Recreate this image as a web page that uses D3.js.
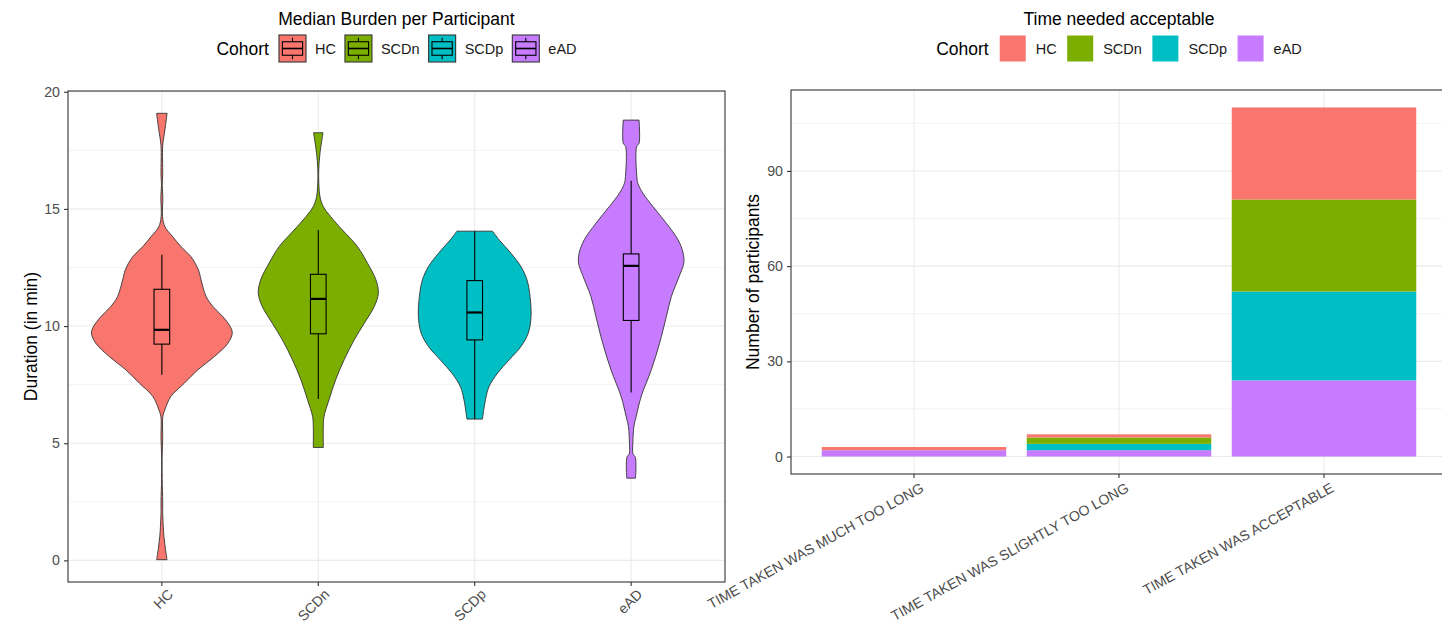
<!DOCTYPE html>
<html>
<head>
<meta charset="utf-8">
<script src="https://cdn.jsdelivr.net/npm/d3@7"></script>
<style>
  html, body { margin: 0; padding: 0; background: #ffffff; }
  svg { display: block; font-family: "Liberation Sans", Arial, sans-serif; }
</style>
</head>
<body>
<svg id="chart" width="1442" height="626"></svg>
<script>
// ---------------- data ----------------
const cohorts = ["HC", "SCDn", "SCDp", "eAD"];
const cohortColors = ["#F8766D", "#7CAE00", "#00BFC4", "#C77CFF"];

// Violin outlines: [duration in min, relative density half-width (widest violin = 1)]
const densityHC = [
  [0.03, 0.074], [0.5, 0.05], [1.0, 0.03], [1.45, 0.02], [2.0, 0.012], [2.5, 0.012],
  [3.5, 0.004], [4.5, 0.004], [5.2, 0.012], [6.14, 0.014], [6.43, 0.043], [7.0, 0.129],
  [7.56, 0.319], [8.13, 0.51], [8.7, 0.747], [9.27, 0.939], [9.7, 1.0], [9.98, 0.971],
  [10.4, 0.867], [10.84, 0.724], [11.26, 0.629], [11.97, 0.557], [12.4, 0.519],
  [12.96, 0.414], [13.39, 0.271], [13.82, 0.153], [14.24, 0.043], [14.67, 0.01],
  [15.5, 0.014], [16.0, 0.006], [16.5, 0.012], [17.7, 0.012], [18.4, 0.045], [19.08, 0.074]
];
const densitySCDn = [
  [4.82, 0.071], [5.71, 0.071], [6.14, 0.081], [6.86, 0.153], [7.71, 0.247],
  [8.56, 0.367], [9.41, 0.51], [10.12, 0.653], [10.84, 0.796], [11.4, 0.853],
  [11.97, 0.819], [12.68, 0.7], [13.39, 0.557], [14.1, 0.343], [14.67, 0.176],
  [15.1, 0.071], [15.52, 0.024], [15.95, 0.01], [16.66, 0.006], [17.37, 0.024], [18.25, 0.067]
];
const densitySCDp = [
  [6.03, 0.11], [6.86, 0.153], [7.42, 0.204], [7.99, 0.324], [8.56, 0.49],
  [9.13, 0.657], [9.7, 0.761], [10.4, 0.8], [11.26, 0.786], [11.97, 0.743],
  [12.54, 0.657], [13.11, 0.514], [13.68, 0.347], [14.05, 0.253]
];
const densityEAD = [
  [3.51, 0.062], [4.4, 0.06], [4.55, 0.026], [5.0, 0.024], [5.71, 0.039], [6.14, 0.071],
  [7.0, 0.143], [8.13, 0.286], [9.27, 0.404], [10.4, 0.5], [11.26, 0.571], [12.11, 0.681],
  [12.68, 0.747], [13.11, 0.739], [13.68, 0.667], [14.39, 0.5], [15.1, 0.31],
  [15.67, 0.167], [16.09, 0.096], [16.38, 0.081], [17.66, 0.078], [17.8, 0.112], [18.79, 0.112]
];

// Box-plot summaries per cohort (min)
const whiskerLow  = [7.92, 6.89, 6.03, 7.17];
const quartile1   = [9.23, 9.67, 9.41, 10.24];
const medians     = [9.84, 11.16, 10.58, 12.57];
const quartile3   = [11.57, 12.21, 11.94, 13.08];
const whiskerHigh = [13.04, 14.1, 14.05, 16.2];

const durationTicks = [0, 5, 10, 15, 20];
const durationMinorTicks = [2.5, 7.5, 12.5, 17.5];

// Acceptability of time needed, participants per cohort
const responses = [
  "TIME TAKEN WAS MUCH TOO LONG",
  "TIME TAKEN WAS SLIGHTLY TOO LONG",
  "TIME TAKEN WAS ACCEPTABLE"
];
const countHC   = [1, 1, 29];
const countSCDn = [0, 2, 29];
const countSCDp = [0, 2, 28];
const countEAD  = [2, 2, 24];
const countTicks = [0, 30, 60, 90];
const countMinorTicks = [15, 45, 75, 105];

// ---------------- shared styling ----------------
const svg = d3.select("#chart");
svg.append("rect").attr("width", 1442).attr("height", 626).attr("fill", "#ffffff");

const GRID = "#ebebeb";
const BORDER = "#333333";
const TICKTEXT = "#4d4d4d";
const TITLE_SIZE = 17.5;
const TICK_SIZE = 14.2;
const LEGEND_LABEL_SIZE = 14.5;
const color = d3.scaleOrdinal().domain(cohorts).range(cohortColors);

function styleAxis(g) {
  g.select(".domain").remove();
  g.selectAll(".tick line").attr("stroke", BORDER).attr("stroke-width", 1.1);
  g.selectAll(".tick text").attr("fill", TICKTEXT).attr("font-size", TICK_SIZE)
    .attr("font-family", "Liberation Sans, Arial, sans-serif");
}

// Horizontal legend centred over a panel
function drawLegend(cx, opts, drawKey) {
  const g = svg.append("g");
  const title = g.append("text").text("Cohort")
    .attr("font-size", TITLE_SIZE).attr("fill", "#000")
    .attr("y", opts.midY).attr("dy", "0.35em");
  let x = title.node().getComputedTextLength() + opts.titleGap;
  cohorts.forEach((c, i) => {
    const key = g.append("g").attr("transform", `translate(${x},${opts.midY - opts.keyH / 2})`);
    drawKey(key, c, opts.keyW, opts.keyH);
    const lab = g.append("text").text(c)
      .attr("x", x + opts.keyW + opts.labelGap).attr("y", opts.midY).attr("dy", "0.35em")
      .attr("font-size", LEGEND_LABEL_SIZE).attr("fill", "#1a1a1a");
    x += opts.keyW + opts.labelGap + lab.node().getComputedTextLength();
    if (i < cohorts.length - 1) x += opts.itemGap;
  });
  g.attr("transform", `translate(${cx - x / 2},0)`);
}

// ---------------- left panel: violins ----------------
const L = { x0: 68, x1: 725, y0: 91, y1: 582 };
const densities = [densityHC, densitySCDn, densitySCDp, densityEAD];

const allDur = densities.flat().map(d => d[0]);
const dMin = d3.min(allDur), dMax = d3.max(allDur);
const dPad = (dMax - dMin) * 0.05;
const yDur = d3.scaleLinear().domain([dMin - dPad, dMax + dPad]).range([L.y1, L.y0]);
const xCoh = d3.scaleBand().domain(cohorts).range([L.x0, L.x1])
  .paddingInner(0.1).paddingOuter(0.15);
const halfW = d3.scaleLinear().domain([0, 1]).range([0, xCoh.bandwidth() / 2]);
const boxHalf = xCoh.step() * 0.05;

const left = svg.append("g");
// grid
left.selectAll(".minor").data(durationMinorTicks).join("line")
  .attr("x1", L.x0).attr("x2", L.x1).attr("y1", d => yDur(d)).attr("y2", d => yDur(d))
  .attr("stroke", GRID).attr("stroke-width", 0.6);
left.selectAll(".major").data(durationTicks).join("line")
  .attr("x1", L.x0).attr("x2", L.x1).attr("y1", d => yDur(d)).attr("y2", d => yDur(d))
  .attr("stroke", GRID).attr("stroke-width", 1.1);
left.selectAll(".vmajor").data(cohorts).join("line")
  .attr("x1", d => xCoh(d) + xCoh.bandwidth() / 2).attr("x2", d => xCoh(d) + xCoh.bandwidth() / 2)
  .attr("y1", L.y0).attr("y2", L.y1).attr("stroke", GRID).attr("stroke-width", 1.1);

// violins
cohorts.forEach((c, i) => {
  const cx = xCoh(c) + xCoh.bandwidth() / 2;
  const area = d3.area()
    .curve(d3.curveCatmullRom.alpha(0.5))
    .y(d => yDur(d[0]))
    .x0(d => cx - halfW(d[1]))
    .x1(d => cx + halfW(d[1]));
  left.append("path").datum(densities[i]).attr("d", area)
    .attr("fill", color(c)).attr("stroke", BORDER).attr("stroke-width", 0.9)
    .attr("stroke-linejoin", "round");

  // box plot on top
  const bp = left.append("g");
  bp.append("line").attr("x1", cx).attr("x2", cx)
    .attr("y1", yDur(whiskerHigh[i])).attr("y2", yDur(quartile3[i]))
    .attr("stroke", "#000").attr("stroke-width", 1.1);
  bp.append("line").attr("x1", cx).attr("x2", cx)
    .attr("y1", yDur(quartile1[i])).attr("y2", yDur(whiskerLow[i]))
    .attr("stroke", "#000").attr("stroke-width", 1.1);
  bp.append("rect").attr("x", cx - boxHalf).attr("width", boxHalf * 2)
    .attr("y", yDur(quartile3[i])).attr("height", yDur(quartile1[i]) - yDur(quartile3[i]))
    .attr("fill", color(c)).attr("stroke", "#000").attr("stroke-width", 1.1);
  bp.append("line").attr("x1", cx - boxHalf).attr("x2", cx + boxHalf)
    .attr("y1", yDur(medians[i])).attr("y2", yDur(medians[i]))
    .attr("stroke", "#000").attr("stroke-width", 2.2);
});

left.append("rect").attr("x", L.x0).attr("y", L.y0)
  .attr("width", L.x1 - L.x0).attr("height", L.y1 - L.y0)
  .attr("fill", "none").attr("stroke", BORDER).attr("stroke-width", 1.1);

const lyAxis = left.append("g").attr("transform", `translate(${L.x0},0)`)
  .call(d3.axisLeft(yDur).tickValues(durationTicks).tickSize(4).tickPadding(4));
styleAxis(lyAxis);

const lxAxis = left.append("g").attr("transform", `translate(0,${L.y1})`)
  .call(d3.axisBottom(xCoh).tickSize(4));
styleAxis(lxAxis);
lxAxis.selectAll(".tick text")
  .attr("x", 0).attr("y", 0).attr("dy", "0.71em")
  .attr("text-anchor", "end")
  .attr("transform", "translate(5,6) rotate(-45)");

left.append("text").text("Duration (in min)")
  .attr("transform", `translate(31,${(L.y0 + L.y1) / 2}) rotate(-90)`)
  .attr("text-anchor", "middle").attr("dy", "0.35em")
  .attr("font-size", TITLE_SIZE).attr("fill", "#000");

left.append("text").text("Median Burden per Participant")
  .attr("x", (L.x0 + L.x1) / 2).attr("y", 25).attr("text-anchor", "middle")
  .attr("font-size", TITLE_SIZE).attr("fill", "#000");

drawLegend((L.x0 + L.x1) / 2,
  { midY: 48.5, keyW: 27, keyH: 27, titleGap: 10, labelGap: 9, itemGap: 9 },
  (g, c, w, h) => {
    g.append("rect").attr("width", w).attr("height", h)
      .attr("fill", color(c)).attr("stroke", BORDER).attr("stroke-width", 1.1);
    g.append("line").attr("x1", w / 2).attr("x2", w / 2).attr("y1", h * 0.1).attr("y2", h * 0.25)
      .attr("stroke", "#000").attr("stroke-width", 1.1);
    g.append("line").attr("x1", w / 2).attr("x2", w / 2).attr("y1", h * 0.75).attr("y2", h * 0.9)
      .attr("stroke", "#000").attr("stroke-width", 1.1);
    g.append("rect").attr("x", w * 0.125).attr("width", w * 0.75)
      .attr("y", h * 0.25).attr("height", h * 0.5)
      .attr("fill", "none").attr("stroke", "#000").attr("stroke-width", 1.1);
    g.append("line").attr("x1", w * 0.125).attr("x2", w * 0.875).attr("y1", h * 0.5).attr("y2", h * 0.5)
      .attr("stroke", "#000").attr("stroke-width", 1.6);
  });

// ---------------- right panel: stacked bars ----------------
const R = { x0: 791, x1: 1447, y0: 90, y1: 474 };
const countsByCohort = { HC: countHC, SCDn: countSCDn, SCDp: countSCDp, eAD: countEAD };
const table = responses.map((r, j) => {
  const row = { response: r };
  cohorts.forEach(c => { row[c] = countsByCohort[c][j]; });
  return row;
});
// first cohort sits on top of each stack
const stackOrder = cohorts.slice().reverse();
const series = d3.stack().keys(stackOrder)(table);
const totalMax = d3.max(table, r => d3.sum(cohorts, c => r[c]));
const cPad = totalMax * 0.05;
const yCnt = d3.scaleLinear().domain([-cPad, totalMax + cPad]).range([R.y1, R.y0]);
const xResp = d3.scaleBand().domain(responses).range([R.x0, R.x1])
  .paddingInner(0.1).paddingOuter(0.15);

const right = svg.append("g");
right.selectAll(".minor").data(countMinorTicks).join("line")
  .attr("x1", R.x0).attr("x2", R.x1).attr("y1", d => yCnt(d)).attr("y2", d => yCnt(d))
  .attr("stroke", GRID).attr("stroke-width", 0.6);
right.selectAll(".major").data(countTicks).join("line")
  .attr("x1", R.x0).attr("x2", R.x1).attr("y1", d => yCnt(d)).attr("y2", d => yCnt(d))
  .attr("stroke", GRID).attr("stroke-width", 1.1);
right.selectAll(".vmajor").data(responses).join("line")
  .attr("x1", d => xResp(d) + xResp.bandwidth() / 2).attr("x2", d => xResp(d) + xResp.bandwidth() / 2)
  .attr("y1", R.y0).attr("y2", R.y1).attr("stroke", GRID).attr("stroke-width", 1.1);

right.selectAll("g.layer").data(series).join("g").attr("class", "layer")
  .attr("fill", d => color(d.key))
  .selectAll("rect").data(d => d).join("rect")
  .attr("x", d => xResp(d.data.response))
  .attr("width", xResp.bandwidth())
  .attr("y", d => yCnt(d[1]))
  .attr("height", d => yCnt(d[0]) - yCnt(d[1]));

right.append("rect").attr("x", R.x0).attr("y", R.y0)
  .attr("width", R.x1 - R.x0).attr("height", R.y1 - R.y0)
  .attr("fill", "none").attr("stroke", BORDER).attr("stroke-width", 1.1);

const ryAxis = right.append("g").attr("transform", `translate(${R.x0},0)`)
  .call(d3.axisLeft(yCnt).tickValues(countTicks).tickSize(4).tickPadding(4));
styleAxis(ryAxis);

const rxAxis = right.append("g").attr("transform", `translate(0,${R.y1})`)
  .call(d3.axisBottom(xResp).tickSize(4));
styleAxis(rxAxis);
rxAxis.selectAll(".tick text")
  .attr("x", 0).attr("y", 0).attr("dy", "0.71em")
  .attr("text-anchor", "end")
  .attr("transform", "translate(6,8) rotate(-29)");

right.append("text").text("Number of participants")
  .attr("transform", `translate(753,${(R.y0 + R.y1) / 2}) rotate(-90)`)
  .attr("text-anchor", "middle").attr("dy", "0.35em")
  .attr("font-size", TITLE_SIZE).attr("fill", "#000");

right.append("text").text("Time needed acceptable")
  .attr("x", (R.x0 + R.x1) / 2).attr("y", 25).attr("text-anchor", "middle")
  .attr("font-size", TITLE_SIZE).attr("fill", "#000");

drawLegend((R.x0 + R.x1) / 2,
  { midY: 48.5, keyW: 26, keyH: 26, titleGap: 11, labelGap: 10, itemGap: 10.5 },
  (g, c, w, h) => {
    g.append("rect").attr("width", w).attr("height", h).attr("fill", color(c));
  });
</script>
</body>
</html>
